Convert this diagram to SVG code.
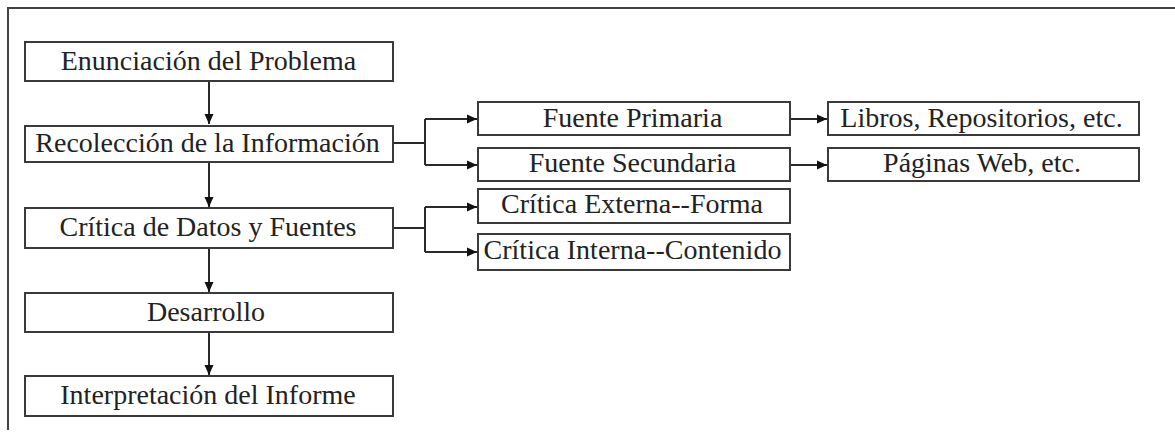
<svg xmlns="http://www.w3.org/2000/svg" width="1175" height="439" viewBox="0 0 1175 439">
<style>
.box{fill:#fff;stroke:#3a3a3a;stroke-width:2}
.t{font-family:'Liberation Serif','Times New Roman',Tinos,serif;font-size:28px;fill:#222;text-anchor:middle}
.c{fill:none;stroke:#2a2a2a;stroke-width:2}
.frame{fill:none;stroke:#444;stroke-width:2}
</style>
<defs>
<marker id="ah" viewBox="0 0 10 10" refX="10" refY="5" markerWidth="10" markerHeight="10" markerUnits="userSpaceOnUse" orient="auto">
<path d="M0,0.5 L10,5 L0,9.5 Z" fill="#111"/>
</marker>
</defs>
<rect width="1175" height="439" fill="#fff"/>
<path class="frame" d="M8,430 V8 H1175"/>
<g id="connectors">
<path class="c" d="M209,81 V124" marker-end="url(#ah)"/>
<path class="c" d="M209,162 V207" marker-end="url(#ah)"/>
<path class="c" d="M209,248 V292" marker-end="url(#ah)"/>
<path class="c" d="M209,332 V375" marker-end="url(#ah)"/>
<path class="c" d="M393,143 H425"/>
<path class="c" d="M425,119 V165"/>
<path class="c" d="M425,119 H477" marker-end="url(#ah)"/>
<path class="c" d="M425,165 H477" marker-end="url(#ah)"/>
<path class="c" d="M393,228 H425"/>
<path class="c" d="M425,207 V252"/>
<path class="c" d="M425,207 H477" marker-end="url(#ah)"/>
<path class="c" d="M425,252 H477" marker-end="url(#ah)"/>
<path class="c" d="M790,119 H827" marker-end="url(#ah)"/>
<path class="c" d="M790,165 H827" marker-end="url(#ah)"/>
</g>
<g id="n1"><rect class="box" x="25" y="42" width="368" height="39"/><text class="t" x="208.5" y="70">Enunciación del Problema</text></g>
<g id="n2"><rect class="box" x="25" y="126" width="368" height="36"/><text class="t" x="207.5" y="152">Recolección de la Información</text></g>
<g id="n3"><rect class="box" x="25" y="208" width="368" height="40"/><text class="t" x="208" y="236">Crítica de Datos y Fuentes</text></g>
<g id="n4"><rect class="box" x="25" y="293" width="368" height="39"/><text class="t" x="206" y="321">Desarrollo</text></g>
<g id="n5"><rect class="box" x="25" y="376" width="368" height="40"/><text class="t" x="208" y="404">Interpretación del Informe</text></g>
<g id="n6"><rect class="box" x="478" y="102" width="312" height="33"/><text class="t" x="632.5" y="127">Fuente Primaria</text></g>
<g id="n7"><rect class="box" x="478" y="148" width="312" height="33"/><text class="t" x="632.5" y="172">Fuente Secundaria</text></g>
<g id="n8"><rect class="box" x="478" y="189" width="312" height="34"/><text class="t" x="632" y="213">Crítica Externa--Forma</text></g>
<g id="n9"><rect class="box" x="478" y="234" width="312" height="36"/><text class="t" x="632.5" y="259">Crítica Interna--Contenido</text></g>
<g id="n10"><rect class="box" x="828" y="102" width="311" height="33"/><text class="t" x="981.5" y="127">Libros, Repositorios, etc.</text></g>
<g id="n11"><rect class="box" x="828" y="148" width="311" height="33"/><text class="t" x="982" y="172">Páginas Web, etc.</text></g>
</svg>
